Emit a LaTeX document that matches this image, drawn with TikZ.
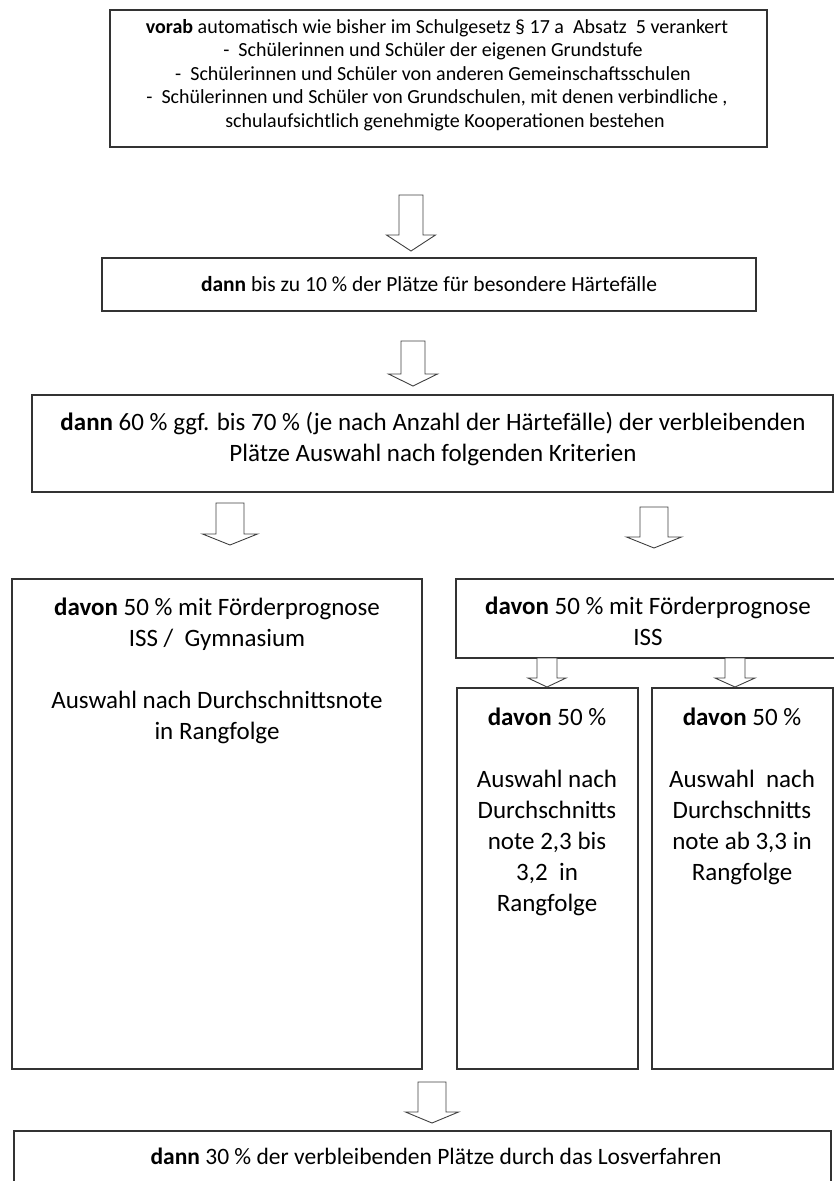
\documentclass[tikz,border=0pt]{standalone}
\usepackage{fontspec}
\setmainfont{Carlito}
\newcommand\blockarr[6]{% cx, ytop, yhead, ytip, shaft half, head half
  \draw[arr] (#1-#5,#2) -- (#1+#5,#2) -- (#1+#5,#3) -- (#1+#6,#3) -- (#1,#4) -- (#1-#6,#3) -- (#1-#5,#3) -- cycle;}
\begin{document}
\begin{tikzpicture}[x=1pt,y=-1pt,
  box/.style={draw=black!80, line width=1.4pt, fill=white},
  arr/.style={draw=black!75, line width=0.9pt, fill=white, line join=miter},
  ln/.style={anchor=base, inner sep=0pt},
  fa/.style={font=\fontsize{20}{24}\selectfont},
  fc/.style={font=\fontsize{21.5}{26}\selectfont},
  fd/.style={font=\fontsize{23.5}{28}\selectfont},
  fb/.style={font=\fontsize{25}{30.5}\selectfont}]
\useasboundingbox (0,0) rectangle (834,1181);
% box 1
\draw[box] (110,10) rectangle (767,147);
\node[ln,fa] (t1a) at (437,33) {\textbf{vorab} automatisch wie bisher im Schulgesetz § 17 a\ \ Absatz\ \ 5 verankert};
\node[ln,fa] (t1b) at (433,56.5) {-\ \ Schülerinnen und Schüler der eigenen Grundstufe};
\node[ln,fa] (t1c) at (433,80) {-\ \ Schülerinnen und Schüler von anderen Gemeinschaftsschulen};
\node[ln,fa] (t1d) at (437,103.5) {-\ \ Schülerinnen und Schüler von Grundschulen, mit denen verbindliche ,};
\node[ln,fa] (t1e) at (445,127) {schulaufsichtlich genehmigte Kooperationen bestehen};
% box 2
\draw[box] (102,258) rectangle (756,311);
\node[ln,fc] (t2) at (429,291) {\textbf{dann} bis zu 10 \% der Plätze für besondere Härtefälle};
% box 3
\draw[box] (32,395) rectangle (833,492);
\node[ln,fb] (t3a) at (433,430) {\textbf{dann} 60 \% ggf. bis 70 \% (je nach Anzahl der Härtefälle) der verbleibenden};
\node[ln,fb] (t3b) at (433,461) {Plätze Auswahl nach folgenden Kriterien};
% left column
\draw[box] (12,579) rectangle (422,1069);
\node[ln,fb] (t4a) at (217,615) {\textbf{davon} 50 \% mit Förderprognose};
\node[ln,fb] (t4b) at (217,646) {ISS /\ \ Gymnasium};
\node[ln,fb] (t4c) at (217,708) {Auswahl nach Durchschnittsnote};
\node[ln,fb] (t4d) at (217,739) {in Rangfolge};
% right column top
\draw[box] (456,579) rectangle (840,658);
\node[ln,fb] (t5a) at (648,614) {\textbf{davon} 50 \% mit Förderprognose};
\node[ln,fb] (t5b) at (648,645) {ISS};
% sub boxes
\draw[box] (457,688) rectangle (638,1069);
\node[ln,fb] (t6a) at (547,725) {\textbf{davon} 50 \%};
\node[ln,fb] (t6b) at (547,787) {Auswahl nach};
\node[ln,fb] (t6c) at (547,818) {Durchschnitts};
\node[ln,fb] (t6d) at (547,849) {note 2,3 bis};
\node[ln,fb] (t6e) at (547,880) {3,2\ \ in};
\node[ln,fb] (t6f) at (547,911) {Rangfolge};
\draw[box] (652,688) rectangle (833,1069);
\node[ln,fb] (t7a) at (742,725) {\textbf{davon} 50 \%};
\node[ln,fb] (t7b) at (742,787) {Auswahl\ \ nach};
\node[ln,fb] (t7c) at (742,818) {Durchschnitts};
\node[ln,fb] (t7d) at (742,849) {note ab 3,3 in};
\node[ln,fb] (t7e) at (742,880) {Rangfolge};
% bottom box
\draw[box] (14,1131) rectangle (831,1200);
\node[ln,fd] (t8) at (436,1164) {\textbf{dann} 30 \% der verbleibenden Plätze durch das Losverfahren};
% block arrows
\blockarr{411}{195}{235}{251}{12}{24.5}
\blockarr{413}{341}{374}{386}{12}{24.5}
\blockarr{230}{503}{534}{545}{14}{27.5}
\blockarr{654}{507}{537}{548}{14}{27.5}
\blockarr{547}{658}{678}{687}{10}{19}
\blockarr{735}{658}{678}{687}{10}{20}
\blockarr{432}{1082}{1112}{1123}{14}{26.5}
\end{tikzpicture}
\end{document}
